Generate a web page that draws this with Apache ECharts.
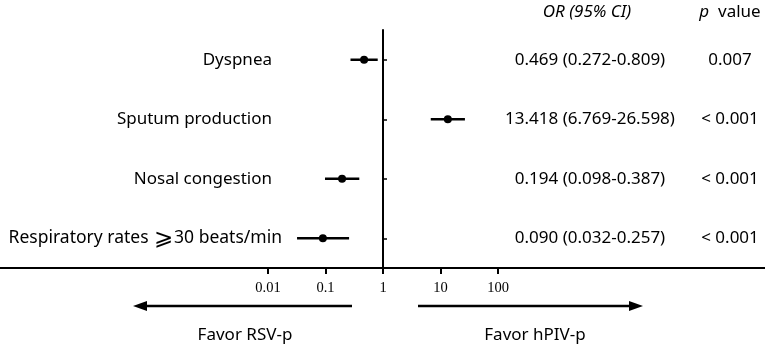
<!DOCTYPE html>
<html>
<head>
<meta charset="utf-8">
<script src="https://cdn.jsdelivr.net/npm/echarts@6/dist/echarts.min.js"></script>
<style>html,body{margin:0;padding:0;background:#fff}#c{width:765px;height:346px}</style>
</head>
<body>
<div id="c"></div>
<script>
const categories = ['Dyspnea', 'Sputum production', 'Nosal congestion', 'Respiratory rates \u2A7E30 beats/min'];
const orValues = [0.469, 13.418, 0.194, 0.090];
const ciLower = [0.272, 6.769, 0.098, 0.032];
const ciUpper = [0.809, 26.598, 0.387, 0.257];
const pValues = ['0.007', '< 0.001', '< 0.001', '< 0.001'];
const tickValues = [0.01, 0.1, 1, 10, 100];
const tickLabels = ['0.01', '0.1', '1', '10', '100'];

const FONT = '"Noto Sans"';
const FS = 17;
const SERIF = 'Liberation Serif';
const PX_PER_DECADE = 57.5;
const W = 765, ZERO_X = 383;

const fmt3 = v => v.toFixed(3);
const orText = orValues.map((v, i) => `${fmt3(v)} (${fmt3(ciLower[i])}-${fmt3(ciUpper[i])})`);
const data = orValues.map((v, i) => [i, Math.log10(v), Math.log10(ciLower[i]), Math.log10(ciUpper[i])]);
const tickLogs = tickValues.map(v => Math.log10(v));

const richLabel = (v, i) => {
  if (i !== categories.length - 1) return '{p|' + v + '}';
  return v.split('\u2A7E').map(s => '{r|' + s + '}').join('{g|\u2A7E}');
};

const chart = echarts.init(document.getElementById('c'), null, {renderer: 'canvas'});
const textAxis = (offset, fn) => ({
  type: 'category', data: categories, inverse: true, position: 'right', offset: offset,
  axisLine: {show: false, onZero: false}, axisTick: {show: false}, splitLine: {show: false},
  axisLabel: {margin: 0, align: 'center', fontSize: FS, fontFamily: FONT, color: '#000', formatter: fn}
});
chart.setOption({
  animation: false,
  grid: {left: 0, right: 0, top: 30, height: 238},
  xAxis: {
    type: 'value',
    min: -ZERO_X / PX_PER_DECADE, max: (W - ZERO_X) / PX_PER_DECADE,
    axisLine: {show: true, onZero: false, lineStyle: {color: '#000', width: 2}},
    splitLine: {show: false},
    axisTick: {show: true, customValues: tickLogs, length: 6, lineStyle: {color: '#000', width: 2}},
    axisLabel: {customValues: tickLogs, margin: 13, fontSize: 14.5, fontFamily: SERIF, color: '#000',
      formatter: v => { const i = tickLogs.findIndex(t => Math.abs(t - v) < 1e-9); return i >= 0 ? tickLabels[i] : ''; }}
  },
  yAxis: [
    {
      type: 'category', data: categories, inverse: true, position: 'left', offset: -ZERO_X,
      axisLine: {show: true, onZero: false, lineStyle: {color: '#000', width: 2}},
      axisTick: {show: true, inside: true, alignWithLabel: true, length: 4, lineStyle: {color: '#000', width: 1.5}},
      splitLine: {show: false},
      axisLabel: {margin: 101, fontSize: FS, fontFamily: FONT, color: '#000',
        formatter: richLabel,
        rich: {
          p: {fontSize: FS, fontFamily: FONT, color: '#000', padding: [0, 10, 0, 0]},
          r: {fontSize: 17.5, fontFamily: FONT, color: '#000', verticalAlign: 'middle'},
          g: {fontSize: 23, fontFamily: FONT, color: '#000', verticalAlign: 'middle', padding: [0, 1, 0, 1]}
        }}
    },
    textAxis(-175, (v, i) => orText[i]),
    textAxis(-35, (v, i) => pValues[i])
  ],
  graphic: [
    {type: 'text', x: 587, y: 12, style: {text: 'OR (95% CI)', font: 'italic ' + FS + 'px ' + FONT, fill: '#000', textAlign: 'center', textVerticalAlign: 'middle'}},
    {type: 'text', x: 730, y: 12, style: {text: '{i|p}  value', rich: {i: {fontStyle: 'italic', fontSize: FS, fontFamily: FONT}}, font: FS + 'px ' + FONT, fill: '#000', textAlign: 'center', textVerticalAlign: 'middle'}},
    {type: 'line', shape: {x1: 146, y1: 306, x2: 352, y2: 306}, style: {stroke: '#000', lineWidth: 2.5}},
    {type: 'polygon', shape: {points: [[133, 306], [147, 301], [147, 311]]}, style: {fill: '#000'}},
    {type: 'line', shape: {x1: 418, y1: 306, x2: 631, y2: 306}, style: {stroke: '#000', lineWidth: 2.5}},
    {type: 'polygon', shape: {points: [[643, 306], [629, 301], [629, 311]]}, style: {fill: '#000'}},
    {type: 'text', x: 245, y: 335, style: {text: 'Favor RSV-p', font: FS + 'px ' + FONT, fill: '#000', textAlign: 'center', textVerticalAlign: 'middle'}},
    {type: 'text', x: 535, y: 335, style: {text: 'Favor hPIV-p', font: FS + 'px ' + FONT, fill: '#000', textAlign: 'center', textVerticalAlign: 'middle'}}
  ],
  series: [{
    type: 'custom',
    yAxisIndex: 0,
    encode: {x: [1, 2, 3], y: 0},
    data: data,
    renderItem: (params, api) => {
      const yi = api.value(0);
      const c = api.coord([api.value(1), yi]);
      const lo = api.coord([api.value(2), yi]);
      const hi = api.coord([api.value(3), yi]);
      return {type: 'group', children: [
        {type: 'line', shape: {x1: lo[0], y1: lo[1], x2: hi[0], y2: hi[1]}, style: {stroke: '#000', lineWidth: 2.5}},
        {type: 'circle', shape: {cx: c[0], cy: c[1], r: 4}, style: {fill: '#000'}}
      ]};
    }
  }]
});
</script>
</body>
</html>
